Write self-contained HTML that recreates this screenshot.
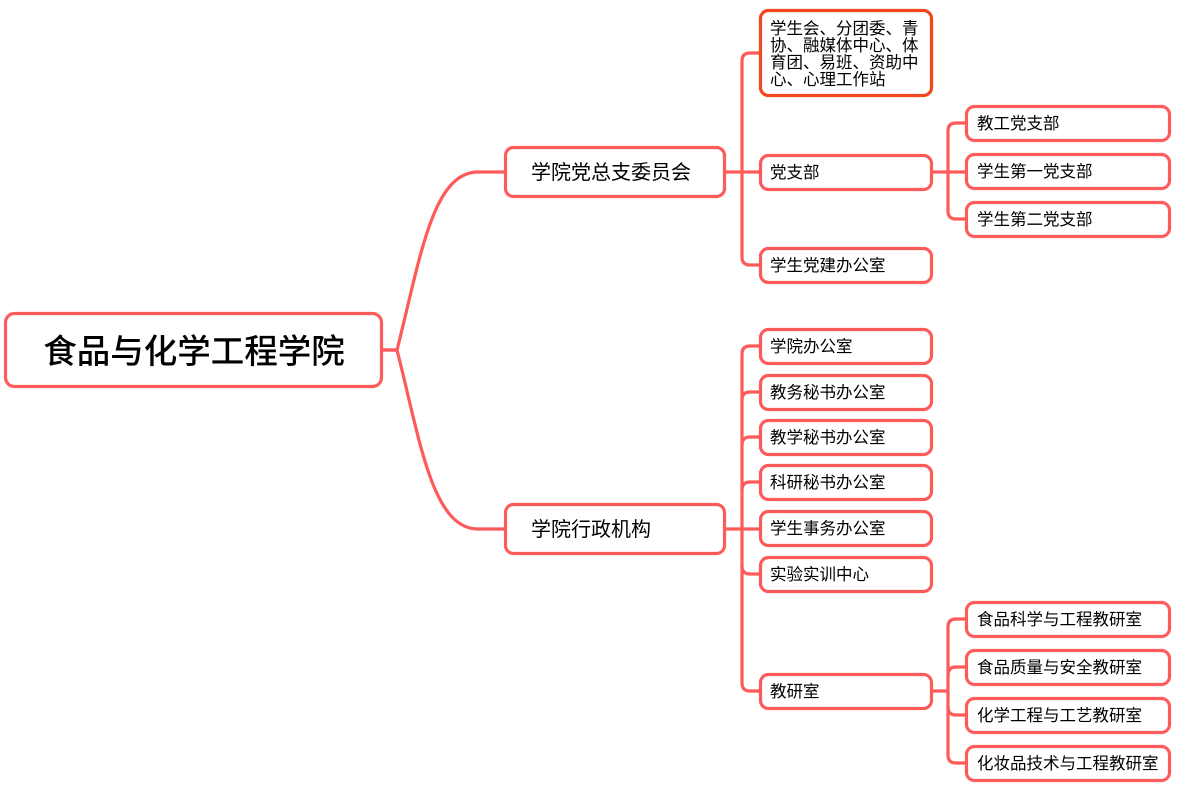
<!DOCTYPE html>
<html><head><meta charset="utf-8"><style>
html,body{margin:0;padding:0;background:#fff;width:1182px;height:794px;overflow:hidden}
svg text{font-family:"Liberation Sans","Noto Sans CJK SC",sans-serif;fill:#000}
</style></head><body>
<svg width="1182" height="794" viewBox="0 0 1182 794" xmlns="http://www.w3.org/2000/svg">
<g fill="none" stroke="#fd5a5a" stroke-width="3.2" stroke-linecap="round">
<path d="M382 350 H397 C420 260 432 172 478 172 H505"/>
<path d="M382 350 H397 C420 440 432 529 478 529 H505"/>
<path d="M725 172 H760"/>
<path d="M742 172 V61 Q742 53 750 53 H760"/>
<path d="M742 172 V257 Q742 265 750 265 H760"/>
<path d="M725 529 H760"/>
<path d="M742 529 V354 Q742 346 750 346 H760"/>
<path d="M742 400 Q742 392 750 392 H760"/>
<path d="M742 445 Q742 437 750 437 H760"/>
<path d="M742 490 Q742 482 750 482 H760"/>
<path d="M742 529 V683 Q742 691 750 691 H760"/>
<path d="M742 566 Q742 574 750 574 H760"/>
<path d="M932 172 H966"/>
<path d="M948 172 V131 Q948 123 956 123 H966"/>
<path d="M948 172 V211 Q948 219 956 219 H966"/>
<path d="M932 691 H948"/>
<path d="M948 691 V627 Q948 619 956 619 H966"/>
<path d="M948 675 Q948 667 956 667 H966"/>
<path d="M948 691 V755 Q948 763 956 763 H966"/>
<path d="M948 707 Q948 715 956 715 H966"/>
</g>
<g fill="#fff" stroke="#fd5a5a" stroke-width="3.2">
<rect x="5.5" y="313.5" width="376" height="73" rx="9"/>
<rect x="505.5" y="147.5" width="219" height="49" rx="8"/>
<rect x="505.5" y="504.5" width="219" height="49" rx="8"/>
<rect x="760.5" y="10.5" width="171" height="85" rx="8" stroke="#f2461c"/>
<rect x="760.5" y="155.5" width="171" height="34" rx="8"/>
<rect x="760.5" y="248.5" width="171" height="34" rx="8"/>
<rect x="760.5" y="329.5" width="171" height="34" rx="8"/>
<rect x="760.5" y="375.5" width="171" height="34" rx="8"/>
<rect x="760.5" y="420.5" width="171" height="34" rx="8"/>
<rect x="760.5" y="465.5" width="171" height="34" rx="8"/>
<rect x="760.5" y="511.5" width="171" height="34" rx="8"/>
<rect x="760.5" y="557.5" width="171" height="34" rx="8"/>
<rect x="760.5" y="674.5" width="171" height="34" rx="8"/>
<rect x="966.5" y="106.5" width="203" height="34" rx="8"/>
<rect x="966.5" y="154.5" width="203" height="34" rx="8"/>
<rect x="966.5" y="202.5" width="203" height="34" rx="8"/>
<rect x="966.5" y="602.5" width="203" height="34" rx="8"/>
<rect x="966.5" y="650.5" width="203" height="34" rx="8"/>
<rect x="966.5" y="698.5" width="203" height="34" rx="8"/>
<rect x="966.5" y="746.5" width="203" height="34" rx="8"/>
</g>
<text x="194" y="363" font-size="33.5" text-anchor="middle" font-weight="500">食品与化学工程学院</text>
<text x="531" y="179" font-size="20">学院党总支委员会</text>
<text x="531" y="536" font-size="20">学院行政机构</text>
<g font-size="16.5">
<text x="770" y="34">学生会、分团委、青</text>
<text x="770" y="51">协、融媒体中心、体</text>
<text x="770" y="68">育团、易班、资助中</text>
<text x="770" y="85">心、心理工作站</text>
<text x="770" y="178">党支部</text>
<text x="770" y="271">学生党建办公室</text>
<text x="770" y="352">学院办公室</text>
<text x="770" y="398">教务秘书办公室</text>
<text x="770" y="443">教学秘书办公室</text>
<text x="770" y="488">科研秘书办公室</text>
<text x="770" y="534">学生事务办公室</text>
<text x="770" y="580">实验实训中心</text>
<text x="770" y="697">教研室</text>
<text x="977" y="129">教工党支部</text>
<text x="977" y="177">学生第一党支部</text>
<text x="977" y="225">学生第二党支部</text>
<text x="977" y="625">食品科学与工程教研室</text>
<text x="977" y="673">食品质量与安全教研室</text>
<text x="977" y="721">化学工程与工艺教研室</text>
<text x="977" y="769">化妆品技术与工程教研室</text>
</g>
</svg>
</body></html>
